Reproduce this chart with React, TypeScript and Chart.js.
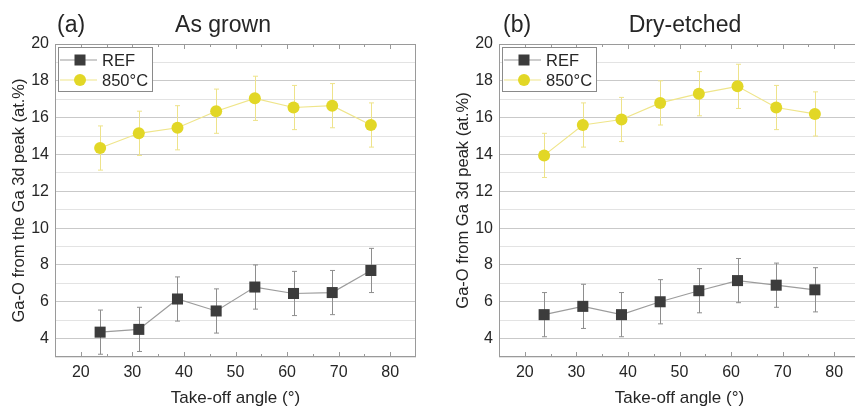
import React, { useEffect, useRef } from "react";
import { Chart, registerables } from "chart.js";

Chart.register(...registerables);

// ---------------- data ----------------
const angles = [23.75, 31.25, 38.75, 46.25, 53.75, 61.25, 68.75, 76.25];

const grownRef = [4.35, 4.5, 6.15, 5.5, 6.8, 6.45, 6.5, 7.7];
const grownRefErr = [1.2, 1.2, 1.2, 1.2, 1.2, 1.2, 1.2, 1.2];
const grown850 = [14.35, 15.15, 15.45, 16.35, 17.05, 16.55, 16.65, 15.6];
const grown850Err = [1.2, 1.2, 1.2, 1.2, 1.2, 1.2, 1.2, 1.2];

const etchedRef = [5.3, 5.75, 5.3, 6.0, 6.6, 7.15, 6.9, 6.65];
const etchedRefErr = [1.2, 1.2, 1.2, 1.2, 1.2, 1.2, 1.2, 1.2];
const etched850 = [13.95, 15.6, 15.9, 16.8, 17.3, 17.7, 16.55, 16.2];
const etched850Err = [1.2, 1.2, 1.2, 1.2, 1.2, 1.2, 1.2, 1.2];

const seriesLabels = ["REF", "850°C"];
const panelLetters = ["(a)", "(b)"];
const panelTitles = ["As grown", "Dry-etched"];
const yTitles = ["Ga-O from the Ga 3d peak (at.%)", "Ga-O from Ga 3d peak (at.%)"];
const xTitle = "Take-off angle (°)";

const xMin = 15;
const xMax = 85;
const yMin = 3;
const yMax = 20;

// ---------------- styles ----------------
const FONT = "'Liberation Sans', Arial, Helvetica, sans-serif";
const TEXT = "#262626";
const REF_MARK = "#3c3c3c";
const REF_LINE = "#9c9c9c";
const REF_ERR = "#8e8e8e";
const Y_MARK = "#e2d726";
const Y_LINE = "#efe58a";
const Y_ERR = "#eee38a";
const FRAME = "#9a9a9a";

const decorPlugin = {
  id: "decor",
  beforeDatasetsDraw(chart: any) {
    const { ctx, scales } = chart;
    const x = scales.x;
    const y = scales.y;
    chart.data.datasets.forEach((ds: any) => {
      ctx.save();
      ctx.strokeStyle = ds.errorColor;
      ctx.lineWidth = 1;
      ds.data.forEach((p: any, j: number) => {
        const e = ds.errors[j];
        const px = Math.round(x.getPixelForValue(p.x)) + 0.5;
        const top = y.getPixelForValue(p.y + e);
        const bot = y.getPixelForValue(p.y - e);
        ctx.beginPath();
        ctx.moveTo(px, top);
        ctx.lineTo(px, bot);
        ctx.moveTo(px - 2.5, top);
        ctx.lineTo(px + 2.5, top);
        ctx.moveTo(px - 2.5, bot);
        ctx.lineTo(px + 2.5, bot);
        ctx.stroke();
      });
      ctx.restore();
    });
  },
  afterDraw(chart: any, _args: any, opts: any) {
    const { ctx, chartArea: a, scales } = chart;
    const x = scales.x;
    ctx.save();
    // frame
    ctx.strokeStyle = FRAME;
    ctx.lineWidth = 1;
    ctx.strokeRect(a.left + 0.5, a.top + 0.5, a.right - a.left - 1, a.bottom - a.top - 1);
    // inward x ticks (top and bottom)
    ctx.beginPath();
    for (let v = xMin + 5; v < xMax; v += 5) {
      const px = Math.round(x.getPixelForValue(v)) + 0.5;
      const len = v % 10 === 0 ? 5 : 3;
      ctx.moveTo(px, a.bottom);
      ctx.lineTo(px, a.bottom - len);
      ctx.moveTo(px, a.top);
      ctx.lineTo(px, a.top + len);
    }
    ctx.stroke();

    // legend box
    const lx = a.left + 3;
    const ly = a.top + 3;
    ctx.fillStyle = "#ffffff";
    ctx.fillRect(lx, ly, 94, 44);
    ctx.strokeStyle = "#8a8a8a";
    ctx.strokeRect(lx + 0.5, ly + 0.5, 94, 44);
    chart.data.datasets.forEach((ds: any, i: number) => {
      const cy = a.top + 16 + i * 20;
      ctx.strokeStyle = ds.borderColor;
      ctx.lineWidth = 1.2;
      ctx.beginPath();
      ctx.moveTo(a.left + 5, cy);
      ctx.lineTo(a.left + 42, cy);
      ctx.stroke();
      ctx.fillStyle = ds.pointBackgroundColor;
      const mx = a.left + 25;
      if (ds.pointStyle === "rect") {
        ctx.fillRect(mx - 5.5, cy - 5.5, 11, 11);
      } else {
        ctx.beginPath();
        ctx.arc(mx, cy, 6, 0, Math.PI * 2);
        ctx.fill();
      }
      ctx.fillStyle = TEXT;
      ctx.font = `16.5px ${FONT}`;
      ctx.textAlign = "left";
      ctx.textBaseline = "middle";
      ctx.fillText(ds.label, a.left + 47, cy + 1);
    });

    // titles
    ctx.fillStyle = TEXT;
    ctx.font = `23px ${FONT}`;
    ctx.textBaseline = "middle";
    ctx.textAlign = "left";
    ctx.fillText(opts.letter, a.left + opts.letterDx, 26);
    ctx.textAlign = "center";
    ctx.fillText(opts.title, a.left + opts.titleDx, 26);
    ctx.restore();
  },
};

type PanelProps = {
  left: number;
  refVals: number[];
  refErr: number[];
  hotVals: number[];
  hotErr: number[];
  letter: string;
  title: string;
  yTitle: string;
  letterDx: number;
  titleDx: number;
};

function Panel(p: PanelProps) {
  const ref = useRef<HTMLCanvasElement | null>(null);
  useEffect(() => {
    if (!ref.current) return;
    const chart = new Chart(ref.current, {
      type: "line",
      data: {
        datasets: [
          {
            label: seriesLabels[0],
            data: angles.map((a, i) => ({ x: a, y: p.refVals[i] })),
            borderColor: REF_LINE,
            borderWidth: 1.2,
            pointStyle: "rect",
            pointRadius: 7.8,
            pointHoverRadius: 7.8,
            pointBackgroundColor: REF_MARK,
            pointBorderColor: REF_MARK,
            pointBorderWidth: 0,
            errors: p.refErr,
            errorColor: REF_ERR,
          } as any,
          {
            label: seriesLabels[1],
            data: angles.map((a, i) => ({ x: a, y: p.hotVals[i] })),
            borderColor: Y_LINE,
            borderWidth: 1.2,
            pointStyle: "circle",
            pointRadius: 6,
            pointHoverRadius: 6,
            pointBackgroundColor: Y_MARK,
            pointBorderColor: Y_MARK,
            pointBorderWidth: 0,
            errors: p.hotErr,
            errorColor: Y_ERR,
          } as any,
        ],
      },
      options: {
        responsive: false,
        animation: false,
        events: [],
        layout: { padding: { top: 44, right: 14, bottom: 0, left: 0 } },
        plugins: {
          legend: { display: false },
          tooltip: { enabled: false },
          decor: {
            letter: p.letter,
            title: p.title,
            letterDx: p.letterDx,
            titleDx: p.titleDx,
          },
        } as any,
        scales: {
          x: {
            type: "linear",
            min: xMin,
            max: xMax,
            afterFit: (s: any) => {
              s.height = 51;
            },
            grid: { display: false, drawTicks: false },
            border: { display: false },
            ticks: {
              stepSize: 5,
              autoSkip: false,
              maxRotation: 0,
              padding: 6,
              color: TEXT,
              font: { family: FONT, size: 16 },
              callback: (v: any) => (Number(v) % 10 === 0 ? String(v) : ""),
            },
            title: {
              display: true,
              text: xTitle,
              color: TEXT,
              font: { family: FONT, size: 17 },
              padding: { top: 0, bottom: -1 },
            },
          },
          y: {
            type: "linear",
            min: yMin,
            max: yMax,
            afterFit: (s: any) => {
              s.width = 55;
            },
            grid: {
              drawTicks: false,
              color: (c: any) =>
                c.tick && Number(c.tick.value) % 2 === 0 ? "#c9c9c9" : "#e3e3e3",
              lineWidth: 1,
            },
            border: { display: false },
            ticks: {
              stepSize: 1,
              autoSkip: false,
              padding: 6,
              color: TEXT,
              font: { family: FONT, size: 16 },
              callback: (v: any) => (Number(v) % 2 === 0 ? String(v) : ""),
            },
            title: {
              display: true,
              text: p.yTitle,
              color: TEXT,
              font: { family: FONT, size: 16.5 },
              padding: { top: 10, bottom: 0 },
            },
          },
        },
      },
      plugins: [decorPlugin as any],
    });
    return () => chart.destroy();
  }, []);
  return (
    <div style={{ position: "absolute", left: p.left, top: 0, width: 430, height: 408 }}>
      <canvas ref={ref} width={430} height={408} style={{ width: 430, height: 408 }} />
    </div>
  );
}

export default function App() {
  return (
    <div
      style={{
        position: "absolute",
        left: 0,
        top: 0,
        width: 855,
        height: 408,
        overflow: "hidden",
        background: "#ffffff",
      }}
    >
      <Panel
        left={0}
        refVals={grownRef}
        refErr={grownRefErr}
        hotVals={grown850}
        hotErr={grown850Err}
        letter={panelLetters[0]}
        title={panelTitles[0]}
        yTitle={yTitles[0]}
        letterDx={2}
        titleDx={168}
      />
      <Panel
        left={444}
        refVals={etchedRef}
        refErr={etchedRefErr}
        hotVals={etched850}
        hotErr={etched850Err}
        letter={panelLetters[1]}
        title={panelTitles[1]}
        yTitle={yTitles[1]}
        letterDx={4}
        titleDx={186}
      />
    </div>
  );
}
